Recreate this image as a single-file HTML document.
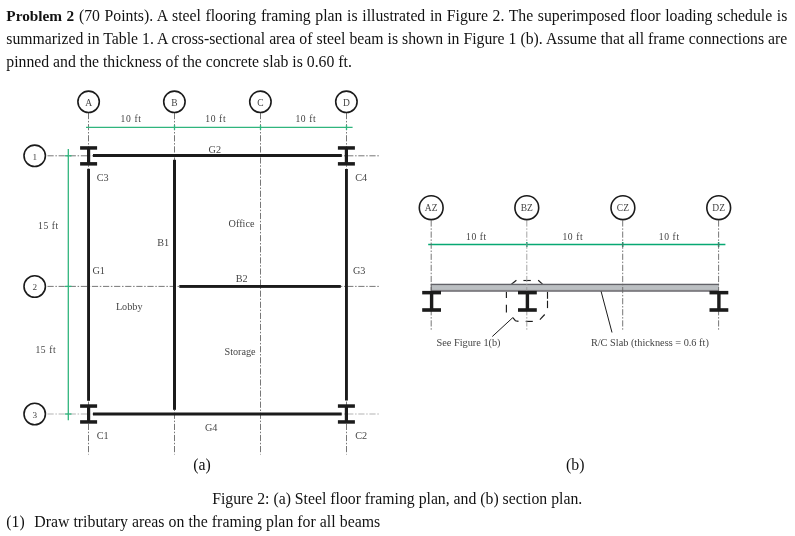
<!DOCTYPE html>
<html><head><meta charset="utf-8">
<style>
html,body{margin:0;padding:0;background:#fff;}
body{width:795px;height:536px;position:relative;overflow:hidden;font-family:"Liberation Serif",serif;color:#111;}
.ln{position:absolute;left:6.3px;width:781px;font-size:15.75px;line-height:22.75px;white-space:nowrap;text-align:justify;text-align-last:justify;}
.ln b{font-weight:bold;}
svg{position:absolute;left:0;top:0;}
.gs{will-change:opacity;opacity:0.995;}
</style></head><body>
<div class="ln gs" style="top:5.0px"><b style="font-size:15.3px">Problem 2</b> (70 Points). A steel flooring framing plan is illustrated in Figure 2. The superimposed floor loading schedule is</div>
<div class="ln gs" style="top:27.7px">summarized in Table 1. A cross-sectional area of steel beam is shown in Figure 1 (b). Assume that all frame connections are</div>
<div class="ln gs" style="top:50.5px;text-align-last:left;width:auto">pinned and the thickness of the concrete slab is 0.60 ft.</div>

<svg class="gs" width="795" height="536" viewBox="0 0 795 536" font-family="Liberation Serif, serif">
<defs>
  <g id="ibeamA">
    <rect x="-8.5" y="-9.7" width="17" height="3.5" fill="#1a1a1a"/>
    <rect x="-8.5" y="6.2" width="17" height="3.5" fill="#1a1a1a"/>
    <rect x="-1.6" y="-7" width="3.2" height="14" fill="#1a1a1a"/>
  </g>
  <g id="ibeamB">
    <rect x="-9.4" y="0" width="18.8" height="3.5" fill="#1a1a1a"/>
    <rect x="-9.4" y="17.3" width="18.8" height="3.6" fill="#1a1a1a"/>
    <rect x="-1.7" y="2" width="3.4" height="17" fill="#1a1a1a"/>
  </g>
</defs>

<!-- ===== (a) framing plan ===== -->
<g stroke="#666" stroke-width="0.9" fill="none" stroke-dasharray="6.2 1.7 1.5 1.7">
  <line x1="88.5" y1="113" x2="88.5" y2="454.5"/>
  <line x1="174.5" y1="113" x2="174.5" y2="454.5"/>
  <line x1="260.5" y1="113" x2="260.5" y2="454.5"/>
  <line x1="346.5" y1="113" x2="346.5" y2="454.5"/>
  <line x1="47.5" y1="155.8" x2="380" y2="155.8"/>
  <line x1="47.5" y1="286.4" x2="380" y2="286.4"/>
  <line x1="47.5" y1="414" x2="380" y2="414" stroke="#aaa"/>
</g>

<!-- green dimension lines -->
<g stroke="#2fb57c" stroke-width="1.3" fill="none">
  <line x1="86" y1="127.4" x2="352.6" y2="127.4"/>
  <line x1="174.5" y1="125" x2="174.5" y2="130"/>
  <line x1="260.5" y1="125" x2="260.5" y2="130"/>
  <line x1="346.5" y1="125" x2="346.5" y2="130"/>
  <line x1="68.3" y1="149" x2="68.3" y2="420.3"/>
  <line x1="65" y1="155.8" x2="71.5" y2="155.8"/>
  <line x1="65" y1="286.4" x2="71.5" y2="286.4"/>
  <line x1="65" y1="414" x2="71.5" y2="414"/>
</g>

<!-- beams -->
<g fill="#1a1a1a">
  <rect x="93" y="154" width="248.8" height="3"/>      <!-- G2 -->
  <rect x="93" y="412.5" width="248.7" height="3"/>    <!-- G4 -->
  <rect x="179.3" y="285" width="161.5" height="2.9"/> <!-- B2 -->
  <rect x="87.1" y="168.8" width="2.9" height="232"/>  <!-- G1 -->
  <rect x="345" y="169" width="2.9" height="231.5"/>   <!-- G3 -->
  <rect x="173" y="159.8" width="3" height="250"/>     <!-- B1 -->
</g>
<use href="#ibeamA" x="88.6" y="155.9"/>
<use href="#ibeamA" x="346.4" y="155.9"/>
<use href="#ibeamA" x="88.6" y="414"/>
<use href="#ibeamA" x="346.4" y="414"/>

<!-- grid bubbles -->
<g stroke="#1a1a1a" stroke-width="1.6" fill="#fff">
  <circle cx="88.6" cy="101.8" r="10.7"/>
  <circle cx="174.4" cy="101.8" r="10.7"/>
  <circle cx="260.4" cy="101.8" r="10.7"/>
  <circle cx="346.4" cy="101.8" r="10.7"/>
  <circle cx="34.7" cy="155.8" r="10.7"/>
  <circle cx="34.7" cy="286.5" r="10.7"/>
  <circle cx="34.7" cy="414" r="10.7"/>
</g>
<g fill="#444" font-size="9.5" text-anchor="middle">
  <text x="88.6" y="105.5">A</text>
  <text x="174.4" y="105.5">B</text>
  <text x="260.4" y="105.5">C</text>
  <text x="346.4" y="105.5">D</text>
  <text x="34.7" y="159.5" font-size="9.2">1</text>
  <text x="34.7" y="290.2" font-size="9.2">2</text>
  <text x="34.7" y="417.7" font-size="9.2">3</text>
</g>

<!-- labels (a) -->
<g fill="#444" font-size="9.6" letter-spacing="0.6">
  <text x="120.6" y="122.2">10 ft</text>
  <text x="205.3" y="122.2">10 ft</text>
  <text x="295.4" y="122.2">10 ft</text>
  <text x="38" y="228.9">15 ft</text>
  <text x="35.4" y="352.9">15 ft</text>
</g>
<g fill="#444" font-size="10.2">
  <text x="208.6" y="152.6">G2</text>
  <text x="96.8" y="180.8">C3</text>
  <text x="355.3" y="180.5">C4</text>
  <text x="157.2" y="246.1">B1</text>
  <text x="228.6" y="226.5">Office</text>
  <text x="92.5" y="274.4">G1</text>
  <text x="235.8" y="282">B2</text>
  <text x="352.9" y="274.3">G3</text>
  <text x="115.9" y="309.5">Lobby</text>
  <text x="224.5" y="355.4">Storage</text>
  <text x="205" y="431.4">G4</text>
  <text x="96.8" y="438.7">C1</text>
  <text x="355.3" y="438.6">C2</text>
</g>

<!-- ===== (b) section plan ===== -->
<g stroke="#1a1a1a" stroke-width="1.15" fill="none" stroke-linecap="butt">
  <path d="M510.8 284.8 L516.4 280.2"/>
  <path d="M523.4 280.5 L530.8 280.5"/>
  <path d="M538.2 280.2 L543.6 285.1"/>
  <path d="M506.4 290.9 L506.4 298.1"/>
  <path d="M506.4 304.8 L506.4 312.5"/>
  <path d="M547.5 291 L547.5 298.8"/>
  <path d="M547.5 300.7 L547.5 308.1"/>
  <path d="M544.7 314.5 L539.9 319.7"/>
  <path d="M525.7 321.4 L532.8 321.4"/>
  <path d="M512.8 317.6 L515.4 320.7 L518.5 321.4"/>
</g>

<g stroke="#06a872" stroke-width="1.5" fill="none">
  <line x1="428.2" y1="244.5" x2="725.4" y2="244.5"/>
  <line x1="526.8" y1="242" x2="526.8" y2="247"/>
  <line x1="622.7" y1="242" x2="622.7" y2="247"/>
  <line x1="718.6" y1="242" x2="718.6" y2="247"/>
</g>
<rect x="431.2" y="283.8" width="287.8" height="8" fill="#bbbfc2"/>
<rect x="431.2" y="283.8" width="287.8" height="1.3" fill="#616167"/>
<rect x="431.2" y="289.9" width="287.8" height="1.9" fill="#7f7d82"/>
<rect x="430.7" y="283.8" width="1" height="8" fill="#616167"/>
<g stroke="#666" stroke-width="0.9" fill="none" stroke-dasharray="6.2 1.7 1.5 1.7">
  <line x1="431.2" y1="220.4" x2="431.2" y2="330.5"/>
  <line x1="526.8" y1="220.4" x2="526.8" y2="330.5" stroke="#999"/>
  <line x1="622.7" y1="220.4" x2="622.7" y2="330.5"/>
  <line x1="718.6" y1="220.4" x2="718.6" y2="330.5"/>
</g>
<use href="#ibeamB" x="431.6" y="290.9"/>
<use href="#ibeamB" x="527.4" y="290.9"/>
<use href="#ibeamB" x="718.9" y="290.9"/>

<!-- dashed octagon -->

<!-- leaders -->
<path d="M492.3 336.5 L512.8 317.6" stroke="#1a1a1a" stroke-width="1" fill="none"/>
<path d="M601.1 291.4 L612 332.5" stroke="#1a1a1a" stroke-width="1" fill="none"/>

<g stroke="#1a1a1a" stroke-width="1.6" fill="#fff">
  <circle cx="431.2" cy="207.7" r="11.9"/>
  <circle cx="526.8" cy="207.7" r="11.9"/>
  <circle cx="622.9" cy="207.7" r="11.9"/>
  <circle cx="718.7" cy="207.7" r="11.9"/>
</g>
<g fill="#444" font-size="9.5" text-anchor="middle">
  <text x="431.2" y="211.3">AZ</text>
  <text x="526.8" y="211.3">BZ</text>
  <text x="622.9" y="211.3">CZ</text>
  <text x="718.7" y="211.3">DZ</text>
</g>
<g fill="#444" font-size="9.6" letter-spacing="0.6">
  <text x="466" y="240">10 ft</text>
  <text x="562.4" y="240">10 ft</text>
  <text x="658.8" y="240">10 ft</text>
</g>
<g fill="#444" font-size="10.3">
  <text x="436.5" y="345.8">See Figure 1(b)</text>
  <text x="590.9" y="346">R/C Slab (thickness = 0.6 ft)</text>
</g>

<g fill="#111" font-size="15.8">
  <text x="193.3" y="470">(a)</text>
  <text x="566" y="470.1">(b)</text>
</g>
</svg>

<div class="ln gs" style="top:488.1px;left:212.2px;width:auto;text-align:left;">Figure 2: (a) Steel floor framing plan, and (b) section plan.</div>
<div class="ln gs" style="top:510.9px;left:6.3px;width:auto;text-align:left;">(1)</div>
<div class="ln gs" style="top:510.9px;left:34.2px;width:346px;font-size:15.85px;">Draw tributary areas on the framing plan for all beams</div>
</body></html>
